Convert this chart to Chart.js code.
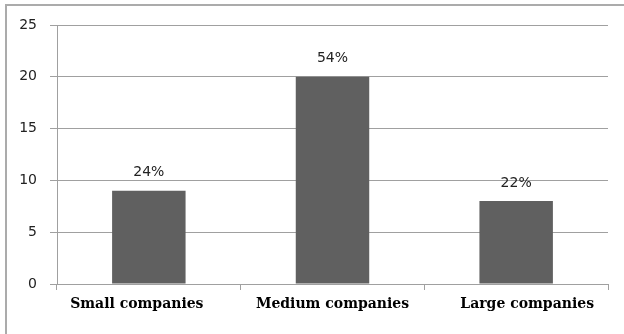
<!DOCTYPE html>
<html lang="en">
<head>
    <meta charset="UTF-8">
    <title>Companies by size</title>
    <style>
        body {
            margin: 0;
            background: #fff;
        }
        #chart {
            display: block;
        }
    </style>
</head>
<body>
    <canvas id="chart" width="624" height="334"></canvas>
    <script src="https://cdn.jsdelivr.net/npm/chart.js"></script>
    <script>
        const categories = ['Small companies', 'Medium companies', 'Large companies'];
        const values = [9, 20, 8];
        const shareLabels = ['24%', '54%', '22%'];
        const yTicks = [0, 5, 10, 15, 20, 25];

        const gridColor = '#a0a0a0';

        // frame round the chart (only top and left edges fall inside the canvas)
        const framePlugin = {
            id: 'frame',
            beforeDraw(chart) {
                const ctx = chart.ctx;
                ctx.save();
                ctx.fillStyle = '#ababab';
                ctx.fillRect(5, 4, chart.width - 5, 2);
                ctx.fillRect(5, 4, 2, chart.height - 4);
                ctx.restore();
            }
        };

        // percentage text above each bar
        const shareLabelPlugin = {
            id: 'shareLabels',
            afterDatasetsDraw(chart) {
                const ctx = chart.ctx;
                const meta = chart.getDatasetMeta(0);
                ctx.save();
                ctx.font = '14px "DejaVu Sans"';
                ctx.fillStyle = '#222';
                ctx.textAlign = 'center';
                ctx.textBaseline = 'middle';
                meta.data.forEach((bar, i) => {
                    ctx.fillText(shareLabels[i], bar.x, bar.y - 18);
                });
                ctx.restore();
            }
        };

        // category names under the axis; the outer two are pushed out a little
        const categoryLabelPlugin = {
            id: 'categoryLabels',
            afterDraw(chart) {
                const ctx = chart.ctx;
                const xScale = chart.scales.x;
                const spread = [-12, 0, 11];
                ctx.save();
                ctx.font = 'bold 14px "DejaVu Serif"';
                ctx.fillStyle = '#000';
                ctx.textAlign = 'center';
                ctx.textBaseline = 'middle';
                categories.forEach((name, i) => {
                    const x = xScale.getPixelForValue(i) + spread[i];
                    ctx.fillText(name, x, chart.chartArea.bottom + 20);
                });
                ctx.restore();
            }
        };

        new Chart(document.getElementById('chart'), {
            type: 'bar',
            data: {
                labels: categories,
                datasets: [{
                    data: values,
                    backgroundColor: '#606060',
                    borderWidth: 0,
                    barPercentage: 0.8,
                    categoryPercentage: 0.5
                }]
            },
            options: {
                responsive: false,
                animation: false,
                layout: {
                    padding: { top: 25, right: 16, bottom: 0, left: 0 }
                },
                plugins: {
                    legend: { display: false },
                    tooltip: { enabled: false }
                },
                scales: {
                    x: {
                        afterFit(scale) { scale.height = 50; },
                        grid: {
                            offset: true,
                            drawOnChartArea: false,
                            color: gridColor,
                            tickLength: 6
                        },
                        border: { color: gridColor, width: 1 },
                        ticks: { display: false }
                    },
                    y: {
                        min: 0,
                        max: 25,
                        afterFit(scale) { scale.width = 57; },
                        afterBuildTicks(scale) {
                            scale.ticks = yTicks.map(v => ({ value: v }));
                        },
                        grid: {
                            color: gridColor,
                            lineWidth: 1,
                            tickLength: 7
                        },
                        border: { color: gridColor, width: 1 },
                        ticks: {
                            padding: 13,
                            color: '#222',
                            font: { family: '"DejaVu Sans"', size: 14 }
                        }
                    }
                }
            },
            plugins: [framePlugin, shareLabelPlugin, categoryLabelPlugin]
        });
    </script>
</body>
</html>
